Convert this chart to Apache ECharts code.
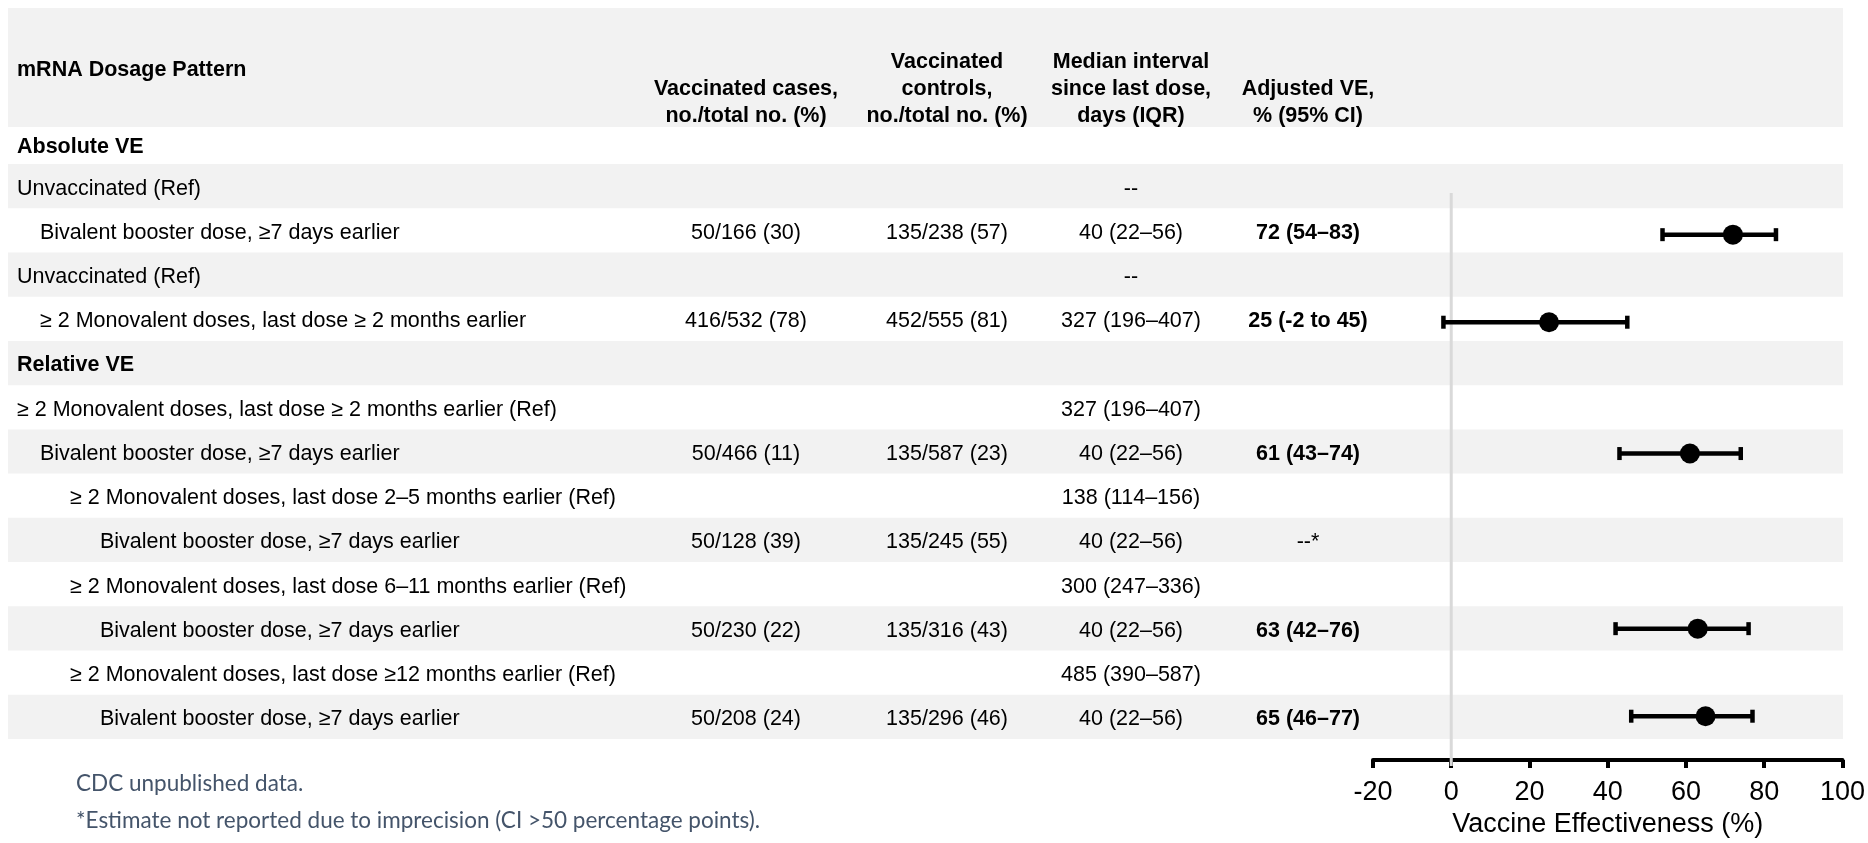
<!DOCTYPE html>
<html><head><meta charset="utf-8">
<script src="https://cdn.jsdelivr.net/npm/echarts@6/dist/echarts.min.js"></script>
<style>html,body{margin:0;padding:0;background:#fff}#c{width:1868px;height:843px}</style>
</head><body><div id="c"></div>
<script>
// ---------------- data ----------------
const headerTitle = 'mRNA Dosage Pattern';
const sectionTitle = 'Absolute VE';
const columnHeaders = [
  ['Vaccinated cases,', 'no./total no. (%)'],
  ['Vaccinated', 'controls,', 'no./total no. (%)'],
  ['Median interval', 'since last dose,', 'days (IQR)'],
  ['Adjusted VE,', '% (95% CI)']
];
const rowLabels = [
  'Unvaccinated (Ref)',
  'Bivalent booster dose, ≥7 days earlier',
  'Unvaccinated (Ref)',
  '≥ 2 Monovalent doses, last dose ≥ 2 months earlier',
  'Relative VE',
  '≥ 2 Monovalent doses, last dose ≥ 2 months earlier (Ref)',
  'Bivalent booster dose, ≥7 days earlier',
  '≥ 2 Monovalent doses, last dose 2–5 months earlier (Ref)',
  'Bivalent booster dose, ≥7 days earlier',
  '≥ 2 Monovalent doses, last dose 6–11 months earlier (Ref)',
  'Bivalent booster dose, ≥7 days earlier',
  '≥ 2 Monovalent doses, last dose ≥12 months earlier (Ref)',
  'Bivalent booster dose, ≥7 days earlier'
];
const rowLevels = [0, 1, 0, 1, 0, 0, 1, 2, 3, 2, 3, 2, 3];
const rowIsSection = [false, false, false, false, true, false, false, false, false, false, false, false, false];
const casesCol = ['', '50/166 (30)', '', '416/532 (78)', '', '', '50/466 (11)', '', '50/128 (39)', '', '50/230 (22)', '', '50/208 (24)'];
const controlsCol = ['', '135/238 (57)', '', '452/555 (81)', '', '', '135/587 (23)', '', '135/245 (55)', '', '135/316 (43)', '', '135/296 (46)'];
const medianCol = ['--', '40 (22–56)', '--', '327 (196–407)', '', '327 (196–407)', '40 (22–56)', '138 (114–156)', '40 (22–56)', '300 (247–336)', '40 (22–56)', '485 (390–587)', '40 (22–56)'];
const veCol = ['', '72 (54–83)', '', '25 (-2 to 45)', '', '', '61 (43–74)', '', '--*', '', '63 (42–76)', '', '65 (46–77)'];
const veBold = [false, true, false, true, false, false, true, false, false, false, true, false, true];
const veEstimate = [null, 72, null, 25, null, null, 61, null, null, null, 63, null, 65];
const veLower    = [null, 54, null, -2, null, null, 43, null, null, null, 42, null, 46];
const veUpper    = [null, 83, null, 45, null, null, 74, null, null, null, 76, null, 77];
const shadedRows = [true, false, true, false, true, false, true, false, true, false, true, false, true];
const xAxisMin = -20, xAxisMax = 100, xAxisStep = 20;
const xAxisTitle = 'Vaccine Effectiveness (%)';
const footnotes = ['CDC unpublished data.', '*Estimate not reported due to imprecision (CI >50 percentage points).'];

// ---------------- layout / style ----------------
const FONT = '"Liberation Sans", Arial, sans-serif';
const GRAY = '#f2f2f2';
const TXT = 21.5;
const TEXT_DY = 2.5;
const levelX = [17, 40, 70, 100];
const colX = [746, 947, 1131, 1308];
const rowCats = rowLabels.map((_, i) => 'r' + i);

const chart = echarts.init(document.getElementById('c'), null, {renderer: 'canvas'});

const bandData = [];
shadedRows.forEach((s, i) => { if (s) bandData.push([0, i]); });
const tableData = rowLabels.map((_, i) => [0, i]);
const forestData = [];
veEstimate.forEach((v, i) => { if (v != null) forestData.push([v, veLower[i], veUpper[i], i]); });

function txt(x, y, text, opt) {
  return {type: 'text', style: Object.assign({x: x, y: y, text: text, fill: '#000', font: 'normal ' + TXT + 'px ' + FONT, align: 'left', verticalAlign: 'middle'}, opt || {})};
}

const headerGraphics = [
  {type: 'rect', shape: {x: 8, y: 8, width: 1835, height: 119}, style: {fill: GRAY}, z: 0, silent: true},
  Object.assign(txt(levelX[0], 70, headerTitle, {font: 'bold ' + TXT + 'px ' + FONT}), {z: 5}),
  Object.assign(txt(levelX[0], 147, sectionTitle, {font: 'bold ' + TXT + 'px ' + FONT}), {z: 5})
];
columnHeaders.forEach((lines, c) => {
  const n = lines.length;
  lines.forEach((ln, k) => {
    headerGraphics.push(Object.assign(txt(colX[c], 116 - (n - 1 - k) * 27, ln, {font: 'bold ' + TXT + 'px ' + FONT, align: 'center'}), {z: 5}));
  });
});
footnotes.forEach((f, k) => {
  headerGraphics.push(Object.assign(txt(76, 784 + k * 37, f, {font: 'normal 22.5px Lato, "Open Sans", sans-serif', fill: '#44546a'}), {z: 5}));
});

const option = {
  animation: false,
  backgroundColor: '#fff',
  grid: [
    {left: 8, right: 25, top: 164, height: 575},
    {left: 1373, right: 25, top: 169, height: 575}
  ],
  xAxis: [
    {gridIndex: 0, type: 'value', min: 0, max: 1, show: false},
    {gridIndex: 1, type: 'value', min: xAxisMin, max: xAxisMax, interval: xAxisStep, position: 'bottom', offset: 22,
     axisLine: {show: true, onZero: false, lineStyle: {color: '#000', width: 4}},
     axisTick: {show: true, length: 8, lineStyle: {color: '#000', width: 4}},
     axisLabel: {color: '#000', fontSize: 27, fontFamily: FONT, margin: 19},
     splitLine: {show: false},
     name: xAxisTitle, nameLocation: 'middle', nameGap: 50,
     nameTextStyle: {color: '#000', fontSize: 27, fontFamily: FONT}}
  ],
  yAxis: [
    {gridIndex: 0, type: 'category', data: rowCats, inverse: true, show: false},
    {gridIndex: 1, type: 'category', data: rowCats, inverse: true, show: false}
  ],
  graphic: {elements: headerGraphics},
  series: [
    {
      type: 'custom', xAxisIndex: 0, yAxisIndex: 0, z: 0, silent: true,
      data: bandData,
      renderItem: function (params, api) {
        const c = api.coord([0, api.value(1)]);
        const h = api.size([0, 1])[1];
        const cs = params.coordSys;
        return {type: 'rect', shape: {x: cs.x, y: c[1] - h / 2, width: cs.width, height: h}, style: {fill: GRAY}};
      }
    },
    {
      type: 'custom', xAxisIndex: 0, yAxisIndex: 0, z: 4, silent: true,
      data: tableData,
      renderItem: function (params, api) {
        const i = api.value(1);
        const y = api.coord([0, i])[1] + TEXT_DY;
        const ch = [];
        ch.push(txt(levelX[rowLevels[i]], y, rowLabels[i], rowIsSection[i] ? {font: 'bold ' + TXT + 'px ' + FONT} : {}));
        const cols = [casesCol[i], controlsCol[i], medianCol[i], veCol[i]];
        cols.forEach((t, c) => {
          if (!t) return;
          const bold = c === 3 && veBold[i];
          ch.push(txt(colX[c], y, t, {align: 'center', font: (bold ? 'bold ' : 'normal ') + TXT + 'px ' + FONT}));
        });
        return {type: 'group', children: ch};
      }
    },
    {
      type: 'custom', xAxisIndex: 1, yAxisIndex: 1, z: 6, silent: true,
      data: forestData,
      encode: {x: [0, 1, 2], y: 3},
      renderItem: function (params, api) {
        const row = api.value(3);
        const pe = api.coord([api.value(0), row]);
        const pl = api.coord([api.value(1), row]);
        const ph = api.coord([api.value(2), row]);
        const st = {stroke: '#000', lineWidth: 4.5};
        return {type: 'group', children: [
          {type: 'line', shape: {x1: pl[0], y1: pl[1], x2: ph[0], y2: ph[1]}, style: st},
          {type: 'line', shape: {x1: pl[0], y1: pl[1] - 6.5, x2: pl[0], y2: pl[1] + 6.5}, style: st},
          {type: 'line', shape: {x1: ph[0], y1: ph[1] - 6.5, x2: ph[0], y2: ph[1] + 6.5}, style: st},
          {type: 'circle', shape: {cx: pe[0], cy: pe[1], r: 10}, style: {fill: '#000'}}
        ]};
      }
    }
  ]
};
chart.setOption(option);

// vertical reference line at VE = 0
const zx = chart.convertToPixel({xAxisIndex: 1}, 0);
chart.setOption({graphic: {elements: headerGraphics.concat([
  {type: 'line', shape: {x1: zx, y1: 193, x2: zx, y2: 766}, style: {stroke: '#d9d9d9', lineWidth: 3}, z: 1, silent: true}
])}});
</script></body></html>
